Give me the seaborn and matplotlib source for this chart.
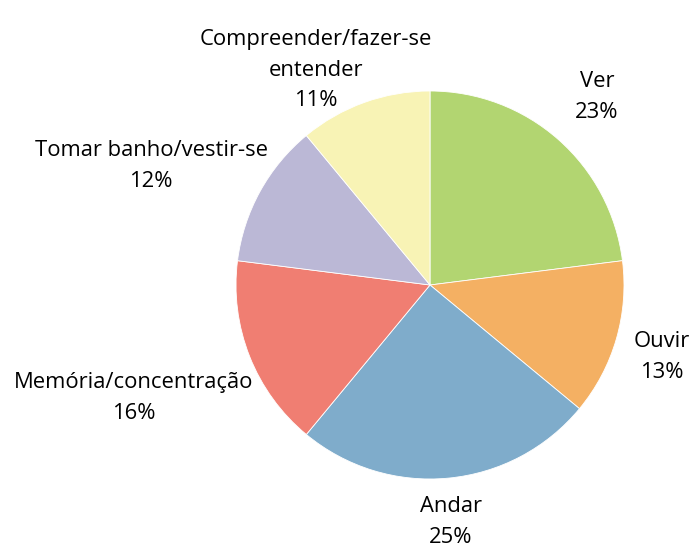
import matplotlib
matplotlib.use("Agg")
import matplotlib.pyplot as plt
import seaborn as sns

# dados
categorias = ["Ver", "Ouvir", "Andar", "Memória/concentração",
              "Tomar banho/vestir-se", "Compreender/fazer-se\nentender"]
percentuais = [23, 13, 25, 16, 12, 11]
cores = ["#B2D571", "#F4B063", "#7FACCB", "#F07E72", "#BBB8D6", "#F8F3B5"]

# posicao dos rotulos (coordenadas do eixo, raio = 1)
pos_rotulos = [(0.861, 0.969), (1.196, -0.371), (0.108, -1.222),
               (-1.526, -0.582), (-1.438, 0.613), (-0.588, 1.108)]

sns.set_theme(style="white")
plt.rcParams["font.family"] = ["Open Sans", "DejaVu Sans"]

fig = plt.figure(figsize=(6.92, 5.46), dpi=100)
W, H = 692, 546
cx, cy, r = 430, 285, 194
ax = fig.add_axes([(cx - r) / W, (H - cy - r) / H, 2 * r / W, 2 * r / H])

ax.pie(percentuais, colors=cores, startangle=90, counterclock=False,
       radius=1, wedgeprops=dict(edgecolor="white", linewidth=0.6))
ax.set_xlim(-1, 1)
ax.set_ylim(-1, 1)
ax.set_aspect("equal")

for nome, v, (x, y) in zip(categorias, percentuais, pos_rotulos):
    ax.text(x, y, f"{nome}\n{v}%", ha="center", va="center",
            fontsize=15.8, linespacing=1.62, color="black", clip_on=False)

fig.savefig("out.png", dpi=100)
